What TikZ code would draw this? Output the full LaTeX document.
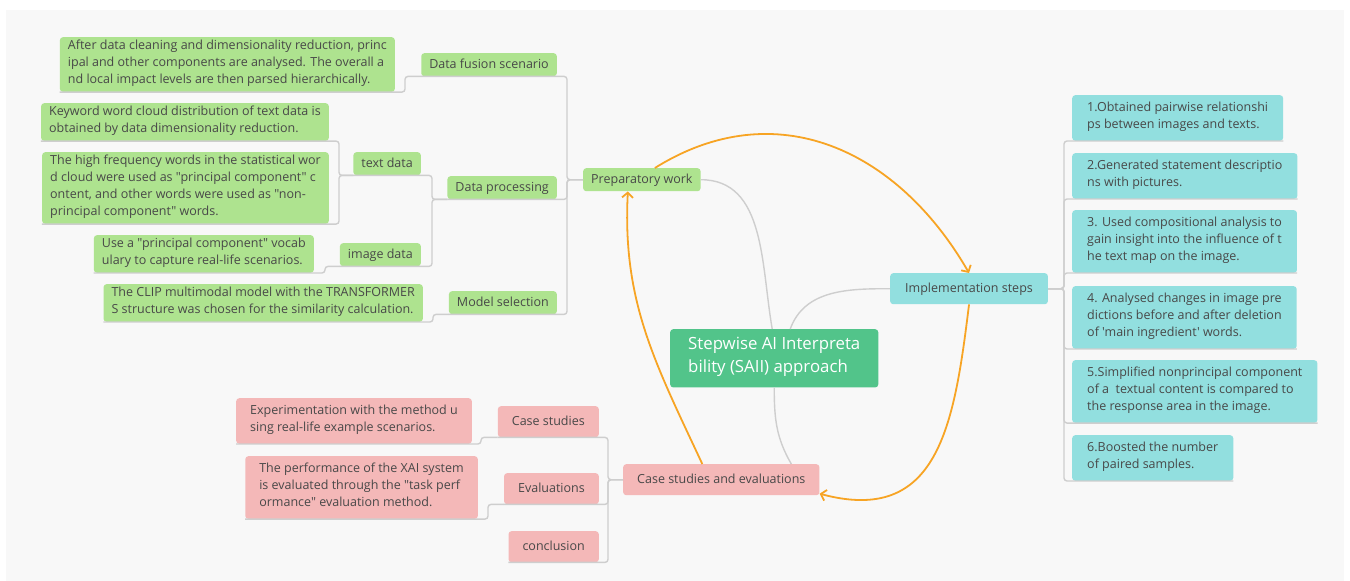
\documentclass[tikz,border=0pt]{standalone}
\usepackage{fontspec}
\setmainfont{Open Sans}[Ligatures=TeXOff]
\usepackage{xcolor}
\usepackage{tikz}
\usetikzlibrary{arrows.meta, calc}

\definecolor{leafgreen}{RGB}{174,227,143}
\definecolor{leafcyan}{RGB}{146,223,223}
\definecolor{leafpink}{RGB}{244,184,184}
\definecolor{rootgreen}{RGB}{82,196,138}
\definecolor{linkorange}{RGB}{247,164,36}
\definecolor{branchgray}{RGB}{206,206,206}
\definecolor{paper}{RGB}{248,248,248}
\definecolor{inkgray}{RGB}{72,72,72}

\begin{document}
\begin{tikzpicture}[x=1pt, y=1pt,
  box/.style={rounded corners=3pt, align=left, text=inkgray,
    font=\fontsize{12.5}{17}\selectfont,
    execute at begin node=\strut, execute at end node=\strut},
  gbox/.style={box, fill=leafgreen, inner xsep=8pt, inner ysep=3pt},
  cbox/.style={box, fill=leafcyan, inner xsep=15pt, inner ysep=7pt},
  pbox/.style={box, fill=leafpink, inner xsep=14pt, inner ysep=7pt},
  branch/.style={draw=branchgray, line width=1.4pt, rounded corners=3pt},
  curve/.style={draw=branchgray, line width=1.4pt},
  link/.style={draw=linkorange, line width=1.8pt, -{Straight Barb[length=5pt,width=11pt]}}]
\useasboundingbox (0,0) rectangle (1350,-581);
\fill[paper] (6,-10) rectangle (1344,-581);

% preparatory work
\node[gbox, anchor=north east] (a1) at (395,-37) {After data cleaning and dimensionality reduction, princ\\ipal and other components are analysed. The overall a\\nd local impact levels are then parsed hierarchically.};
\node[gbox, anchor=north east] (fusion) at (557,-53) {Data fusion scenario};
\node[gbox, anchor=north east] (a2) at (329,-103) {Keyword word cloud distribution of text data is\\obtained by data dimensionality reduction.};
\node[gbox, anchor=north east] (a3) at (329,-152) {The high frequency words in the statistical wor\\d cloud were used as "principal component" c\\ontent, and other words were used as "non-\\principal component" words.};
\node[gbox, anchor=north east] (textd) at (421,-152) {text data};
\node[gbox, anchor=north east] (dataproc) at (557,-176) {Data processing};
\node[gbox, anchor=north east] (a4) at (314,-235) {Use a "principal component" vocab\\ulary to capture real-life scenarios.};
\node[gbox, anchor=north east] (imgd) at (421,-243) {image data};
\node[gbox, anchor=north east] (a5) at (423,-284) {The CLIP multimodal model with the TRANSFORMER\\S structure was chosen for the similarity calculation.};
\node[gbox, anchor=north east] (model) at (557,-291) {Model selection};
\node[gbox, anchor=north west] (prep) at (583,-168) {Preparatory work};

\node[box, fill=rootgreen, text=white, inner xsep=18pt, inner ysep=8pt,
  font=\fontsize{16.8}{23}\selectfont, anchor=north west] (root) at (670,-329) {Stepwise AI Interpreta\\bility (SAII) approach};

% implementation steps
\node[cbox, anchor=north west] (impl) at (890,-273) {Implementation steps};
\node[cbox, anchor=north west] (b1) at (1072,-95) {1.Obtained pairwise relationshi\\ps between images and texts.};
\node[cbox, anchor=north west] (b2) at (1072,-153) {2.Generated statement descriptio\\ns with pictures.};
\node[cbox, anchor=north west] (b3) at (1072,-210) {3. Used compositional analysis to\\gain insight into the influence of t\\he text map on the image.};
\node[cbox, anchor=north west] (b4) at (1072,-286) {4. Analysed changes in image pre\\dictions before and after deletion\\of 'main ingredient' words.};
\node[cbox, anchor=north west] (b5) at (1072,-360) {5.Simplified nonprincipal component\\of a \ textual content is compared to\\the response area in the image.};
\node[cbox, anchor=north west] (b6) at (1072,-435) {6.Boosted the number\\of paired samples.};

% case studies and evaluations
\node[pbox, anchor=north west] (cse) at (623,-464) {Case studies and evaluations};
\node[pbox, anchor=north east] (cstud) at (599,-406) {Case studies};
\node[pbox, anchor=north east] (c1) at (472,-398) {Experimentation with the method u\\sing real-life example scenarios.};
\node[pbox, anchor=north east] (evals) at (599,-473) {Evaluations};
\node[pbox, anchor=north east] (c2) at (478,-456) {The performance of the XAI system\\is evaluated through the "task perf\\ormance" evaluation method.};
\node[pbox, anchor=north east] (concl) at (599,-531) {conclusion};

% tree lines
\draw[branch] (prep.west) -| ([xshift=10pt]fusion.south east) -- (fusion.south west);
\draw[branch] (prep.west) -| ([xshift=10pt]dataproc.south east) -- (dataproc.south west);
\draw[branch] (prep.west) -| ([xshift=10pt]model.south east) -- (model.south west);
\draw[branch] (fusion.south west) -| ([xshift=10pt]a1.south east) -- (a1.south west);
\draw[branch] (dataproc.south west) -| ([xshift=11pt]textd.south east) -- (textd.south west);
\draw[branch] (dataproc.south west) -| ([xshift=11pt]imgd.south east) -- (imgd.south west);
\draw[branch] (textd.south west) -| ([xshift=10pt]a2.south east) -- (a2.south west);
\draw[branch] (textd.south west) -| ([xshift=10pt]a3.south east) -- (a3.south west);
\draw[branch] (imgd.south west) -| ([xshift=11pt]a4.south east) -- (a4.south west);
\draw[branch] (model.south west) -| ([xshift=10pt]a5.south east) -- (a5.south west);
\foreach \b in {b1,b2,b3,b4,b5,b6}
  \draw[branch] (impl.east) -| ([xshift=-8pt]\b.south west) -- (\b.south east);
\foreach \c in {cstud,evals,concl}
  \draw[branch] (cse.west) -| ([xshift=9pt]\c.south east) -- (\c.south west);
\draw[branch] (cstud.south west) -| ([xshift=9pt]c1.south east) -- (c1.south west);
\draw[branch] (evals.south west) -| ([xshift=10pt]c2.south east) -- (c2.south west);

\draw[curve] ([xshift=-2pt]root.north) to[out=100,in=0] (prep.east);
\draw[curve] ([xshift=16pt]root.north) to[out=70,in=180] (impl.west);
\draw[curve] (root.south) to[out=-90,in=120] ([xshift=70pt]cse.north);

% orange links
\draw[link] ([xshift=13pt]prep.north) to[out=32,in=120,looseness=1.1] (impl.north);
\draw[link] (impl.south) to[out=-97,in=-15,looseness=1.3] ([yshift=-14pt]cse.east);
\draw[link] ([xshift=-19pt]cse.north) to[out=115,in=-93] ([xshift=-14pt]prep.south);
\end{tikzpicture}
\end{document}
